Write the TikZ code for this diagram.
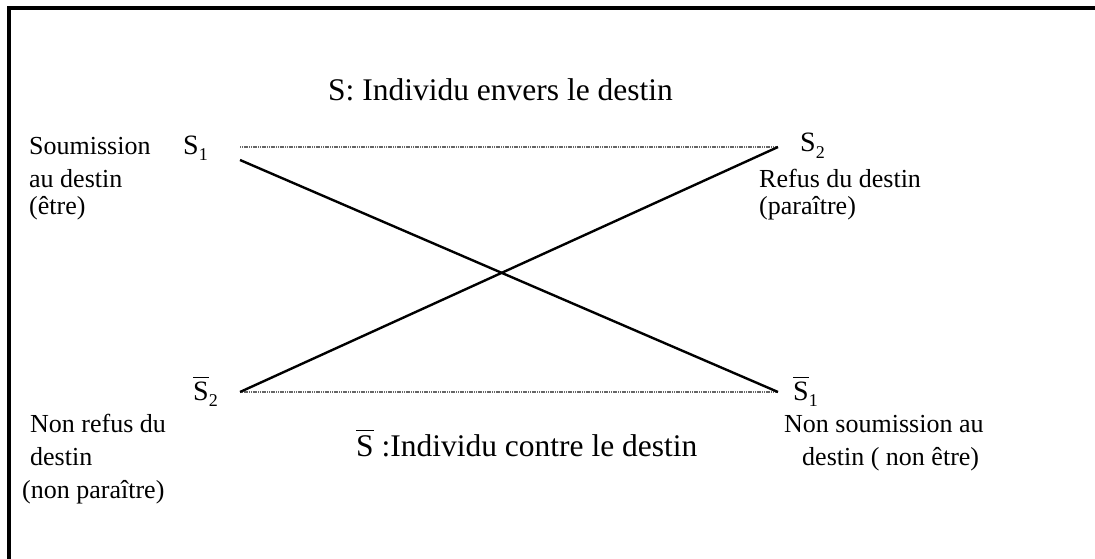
\documentclass[tikz,border=0pt]{standalone}
\usepackage{fontspec}
\setmainfont{Liberation Serif}
\newcommand\subidx[1]{\raisebox{-0.24em}{\fontsize{18}{18}\selectfont #1}}
\newcommand\barS{$\overline{\mbox{S}\vphantom{\rule{0pt}{0.78em}}}$}
\begin{document}
\begin{tikzpicture}[x=1pt,y=-1pt,
  lbl/.style={anchor=base west,inner sep=0pt,font=\fontsize{26}{33}\selectfont},
  big/.style={anchor=base west,inner sep=0pt,font=\fontsize{31.5}{38}\selectfont},
  sym/.style={anchor=base west,inner sep=0pt,font=\fontsize{28}{33}\selectfont},
  solidline/.style={line width=2.4pt},
  dotline/.style={line width=1.7pt,draw=black!60,dash pattern=on 1.2pt off 0.6pt},
  frameline/.style={line width=3.5pt}]
\useasboundingbox (0,0) rectangle (1095,559);
% frame
\coordinate (fbl) at (9,559);
\coordinate (ftl) at (9,8);
\coordinate (ftr) at (1095,8);
\draw[frameline] (fbl) -- (ftl) -- (ftr);
% titles
\node[big] (title) at (328,101) {S: Individu envers le destin};
\node[big] (btitle) at (356,456) {\barS\ :Individu contre le destin};
% symbols
\node[sym] (S1) at (183,154) {S\subidx{1}};
\node[sym] (S2) at (800,152) {S\subidx{2}};
\node[sym] (S2b) at (193,400) {\barS\subidx{2}};
\node[sym] (S1b) at (793,400) {\barS\subidx{1}};
% labels
\node[lbl] (l1a) at (29,154) {Soumission};
\node[lbl] (l1b) at (29,187) {au destin};
\node[lbl] (l1c) at (29,214) {(être)};
\node[lbl] (l2a) at (759,187) {Refus du destin};
\node[lbl] (l2b) at (759,214) {(paraître)};
\node[lbl] (l3a) at (30,432) {Non refus du};
\node[lbl] (l3b) at (30,465) {destin};
\node[lbl] (l3c) at (22,498) {(non paraître)};
\node[lbl] (l4a) at (784,432) {Non soumission au};
\node[lbl] (l4b) at (802,465) {destin ( non être)};
% connector ends
\coordinate (s1top) at (240,147);
\coordinate (s1sol) at (240,160);
\coordinate (s2end) at (778,147);
\coordinate (s2bend) at (240,392);
\coordinate (s1bend) at (778,392);
\draw[dotline] (s1top) -- (s2end);
\draw[dotline] (s2bend) -- (s1bend);
\draw[solidline] (s1sol) -- (s1bend);
\draw[solidline] (s2bend) -- (s2end);
\end{tikzpicture}
\end{document}
